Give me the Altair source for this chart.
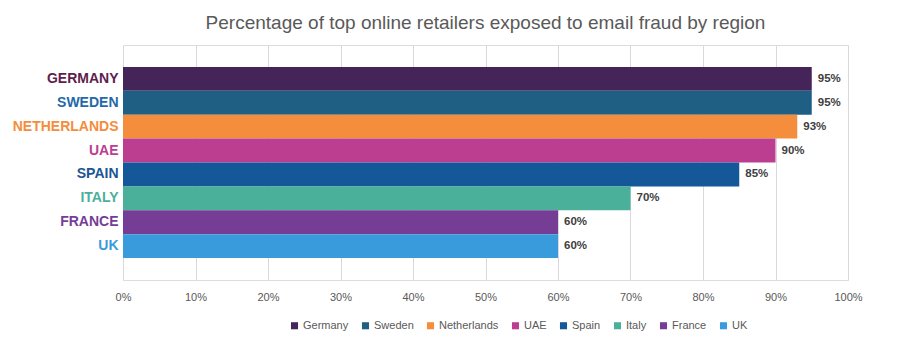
import altair as alt
import pandas as pd

countries = ["Germany", "Sweden", "Netherlands", "UAE", "Spain", "Italy", "France", "UK"]
values = [0.95, 0.95, 0.93, 0.90, 0.85, 0.70, 0.60, 0.60]
bar_colors = ["#45245A", "#1F5F84", "#F48D3C", "#BB3E91", "#15589A", "#4BB09A", "#763D97", "#3A9BDC"]
label_colors = ["#5E1E4E", "#2468A9", "#F48D3C", "#BB3E91", "#1A5595", "#4BB09A", "#763D97", "#3A9BDC"]
title_text = "Percentage of top online retailers exposed to email fraud by region"

df = pd.DataFrame({
    "country": countries,
    "label": [c.upper() for c in countries],
    "value": values,
})

labels_upper = [c.upper() for c in countries]
expr = ""
for lab, col in zip(labels_upper, label_colors):
    expr += f"datum.value == '{lab}' ? '{col}' : "
expr += "'#595959'"

FONT = "Liberation Sans"

base = alt.Chart(df).encode(
    y=alt.Y("label:N", sort=labels_upper,
            scale=alt.Scale(paddingInner=0, paddingOuter=0.92),
            axis=alt.Axis(title=None, ticks=False, domain=False, labelFontWeight="bold",
                          labelFontSize=14, labelFont=FONT, labelPadding=5,
                          labelColor=alt.ExprRef(expr=expr))),
    x=alt.X("value:Q", scale=alt.Scale(domain=[0, 1]),
            axis=alt.Axis(title=None, format=".0%", values=[i / 10 for i in range(11)],
                          ticks=False, domain=False, labelFontSize=11, labelFont=FONT,
                          labelColor="#595959", labelPadding=11, gridColor="#D9D9D9",
                          labelFlush=False)),
)

bars = base.mark_bar().encode(
    color=alt.Color("country:N", sort=countries,
                    scale=alt.Scale(domain=countries, range=bar_colors),
                    legend=alt.Legend(title=None, orient="none", direction="horizontal",
                                      columns=8, legendX=166, legendY=275,
                                      symbolType="square", symbolSize=50,
                                      symbolStrokeWidth=0,
                                      labelFontSize=11, labelFont=FONT, labelColor="#595959",
                                      columnPadding=11, labelOffset=3)),
)

text = base.mark_text(align="left", dx=6, fontWeight="bold", fontSize=11.5, font=FONT,
                      color="#404040").encode(text=alt.Text("value:Q", format=".0%"))

chart = (bars + text).properties(
    width=725, height=235,
    title=alt.TitleParams(title_text, fontSize=19, font=FONT, fontWeight="normal",
                          color="#595959", anchor="middle", offset=12),
    autosize=alt.AutoSizeParams(type="none"),
    padding={"left": 123, "top": 45, "right": 65, "bottom": 72},
).configure_view(stroke=None).configure(background="white")

chart.save("out.html", embed_options={"renderer": "svg", "actions": False})
